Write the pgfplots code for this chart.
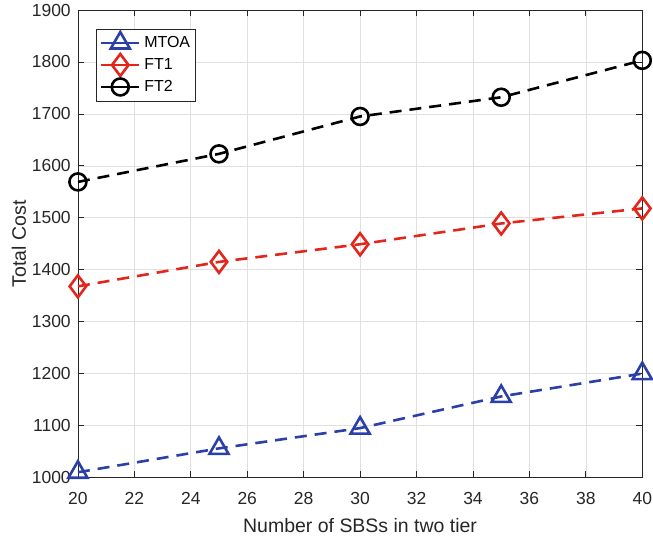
\documentclass[border=0pt]{standalone}
\usepackage{pgfplots}
\pgfplotsset{compat=1.18}
\usepackage{fontspec}
\setmainfont{Liberation Sans}
\definecolor{mblue}{HTML}{2B3FA8}
\definecolor{mred}{HTML}{E3261C}
\definecolor{axgray}{HTML}{262626}
\begin{document}
\begin{tikzpicture}
\begin{axis}[
  scale only axis, width=565pt, height=468pt,
  xmin=20, xmax=40, ymin=1000, ymax=1900,
  xtick={20,22,...,40}, ytick={1000,1100,...,1900},
  grid=major, grid style={draw=black!12, line width=0.6pt},
  axis line style={draw=axgray, line width=0.7pt},
  tick style={draw=axgray, line width=0.7pt},
  tick align=inside, major tick length=6pt,
  tick label style={font=\fontsize{17.5}{19}\selectfont, text=axgray, inner sep=1pt},
  xticklabel style={yshift=-14pt},
  yticklabel style={xshift=-6pt},
  label style={font=\fontsize{19.5}{22}\selectfont, text=axgray},
  /pgf/number format/assume math mode=true,
  /pgf/number format/1000 sep={},
  xlabel={Number of SBSs in two tier},
  ylabel={Total Cost},
  xlabel style={at={(axis description cs:0.5,0)}, anchor=base, yshift=-55pt},
  ylabel style={at={(axis description cs:0,0.5)}, anchor=base, yshift=52pt},
  legend style={at={(axis description cs:0.032,0.96)}, anchor=north west,
    draw=axgray, line width=0.7pt, inner xsep=5pt, inner ysep=3pt,
    font=\fontsize{16}{18}\selectfont, nodes={inner sep=0pt}, row sep=0pt, column sep=0pt},
  legend cell align=left,
  legend image code/.code={
    \draw[#1, solid, overlay] (0pt,0pt) -- (38pt,0pt);
    \draw[#1, solid, overlay] plot coordinates {(19pt,0pt)};
    \path[draw=none, fill=none] (0pt,-11pt) rectangle (43pt,11pt);},
]
\addplot[mblue, dash pattern=on 12pt off 8pt, line width=2.6pt, mark=triangle, mark size=11pt, mark options={solid, line width=2.6pt}]
  coordinates {(20,1010) (25,1056) (30,1095) (35,1156) (40,1200)};
\addplot[mred, dash pattern=on 12pt off 8pt, line width=2.6pt, mark=diamond, mark size=11pt, mark options={solid, line width=2.6pt}]
  coordinates {(20,1368) (25,1415) (30,1449) (35,1489) (40,1518)};
\addplot[black, dash pattern=on 12pt off 8pt, line width=2.6pt, mark=o, mark size=8.5pt, mark options={solid, line width=2.6pt}]
  coordinates {(20,1569) (25,1623) (30,1695) (35,1732) (40,1803)};
\legend{MTOA,FT1,FT2}
\path (rel axis cs:0,0) ++(-78pt,-61pt) coordinate (bbsw);
\path (rel axis cs:1,1) ++(10pt,10pt) coordinate (bbne);
\end{axis}
\path (bbsw) rectangle (bbne);
\end{tikzpicture}
\end{document}
